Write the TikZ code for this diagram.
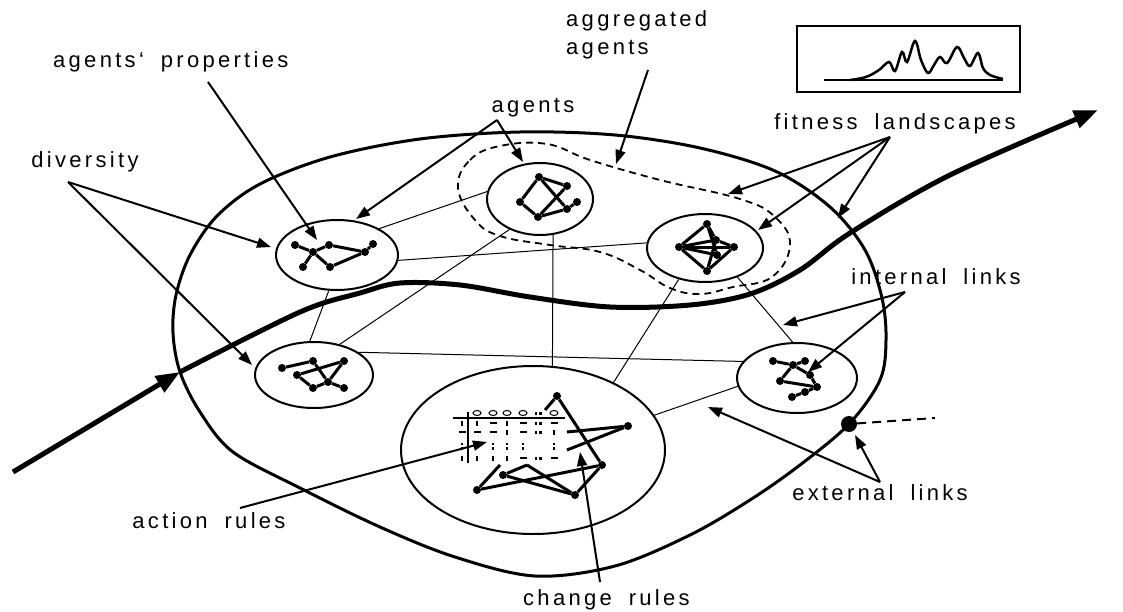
\documentclass[tikz,border=0pt]{standalone}
\usepackage{fontspec}
\setmainfont{Liberation Sans}
\newfontfamily\lblfont[LetterSpace=15,WordSpace=1.8]{Liberation Sans}
\usetikzlibrary{arrows.meta,shapes.geometric}
\begin{document}
\begin{tikzpicture}[x=1pt,y=-1pt,
  lbl/.style={font=\lblfont\fontsize{22}{26}\selectfont, inner sep=0pt},
  agent/.style={draw, ellipse, line width=2pt, inner sep=0pt},
  link/.style={line width=1pt},
  gedge/.style={line width=3pt},
  dot/.style={circle, fill, inner sep=0pt, minimum size=8pt},
  pointer/.style={line width=2pt, -{Triangle[length=14pt,width=10pt]}},
  wave/.style={line width=5pt, -{Triangle[length=24pt,width=18pt]}},
  tbl/.style={line width=1.3pt},
  tblv/.pic={\draw[tbl] (0,-2.5) -- (0,2.5);},
  tblh/.pic={\draw[tbl] (-3.5,0) -- (3.5,0);},
  tblsq/.pic={\fill (-3.5,-1.5) rectangle (-0.8,1.5); \fill (0.8,-1.5) rectangle (3.5,1.5);},
  tblcol/.pic={\fill (-1.2,-3.5) rectangle (1.2,-0.8); \fill (-1.2,0.8) rectangle (1.2,3.5);},
  tblo/.pic={\draw[line width=1pt] (0,0) ellipse (4 and 2.5);}
]
\useasboundingbox (0,0) rectangle (1123,612);

% the system boundary
\draw[line width=3pt] plot[smooth cycle, tension=0.55] coordinates {
  (520,132) (615,135) (700,148) (775,171) (830,207) (865,250) (882,298) (886,340)
  (880,380) (849,424) (800,465) (750,500) (690,535) (615,566) (535,576) (455,557)
  (380,527) (300,488) (233,452) (200,412) (180,372) (173,333) (176,295) (190,255)
  (217,216) (260,184) (330,157) (420,139)};

% agents
\node[agent, minimum width=122pt, minimum height=70pt] (A1) at (337,255) {};
\node[agent, minimum width=106pt, minimum height=72pt] (A2) at (540,199) {};
\node[agent, minimum width=116pt, minimum height=68pt] (A3) at (705,248) {};
\node[agent, minimum width=118pt, minimum height=66pt] (A4) at (314,375) {};
\node[agent, minimum width=120pt, minimum height=70pt] (A5) at (797,378) {};
\node[agent, minimum width=264pt, minimum height=168pt] (C) at (533,450) {};

% internal links between agents
\draw[link] (A1.-5) -- (A3.175);
\draw[link] (A1.32) -- (A2.172);
\draw[link] (A1.257) -- (A4.97);
\draw[link] (A2.290) -- (C.77);
\draw[link] (A4.50) -- (A2.225);
\draw[link] (A4.27) -- (A5.163);
\draw[link] (A3.230) -- (C.40);
\draw[link] (A3.318) -- (A5.97);
\draw[link] (A5.188) -- (C.16);

% aggregated agents
\draw[line width=1.8pt, dash pattern=on 7pt off 5pt] plot[smooth cycle, tension=0.7] coordinates {
  (458,188) (470,160) (500,146) (547,144) (590,160) (660,180) (740,199) (775,217)
  (790,245) (772,277) (733,287) (700,294) (670,288) (640,270) (600,252) (550,245)
  (500,236) (475,220)};

% agent graphs
\foreach \n/\x/\y in {1/295/245, 2/313/252, 3/329/245, 4/303/267, 5/330/267, 6/365/252, 7/373/244}
  \node[dot] (p\n) at (\x,\y) {};
\foreach \u/\v in {1/2, 2/5, 4/2, 2/3, 3/6, 6/7, 6/5}
  \draw[gedge] (p\u) -- (p\v);

\foreach \n/\x/\y in {1/539/177, 2/567/186, 3/520/202, 4/538/217, 5/567/209, 6/577/202}
  \node[dot] (q\n) at (\x,\y) {};
\foreach \u/\v in {1/2, 1/3, 3/4, 4/5, 5/6, 1/5, 2/4}
  \draw[gedge] (q\u) -- (q\v);

\foreach \n/\x/\y in {1/707/224, 2/679/247, 3/716/240, 4/734/247, 5/717/255, 6/707/271}
  \node[dot] (r\n) at (\x,\y) {};
\foreach \u/\v in {1/2, 2/6, 6/4, 4/3, 3/1, 2/3, 2/4, 2/5, 1/5, 3/6}
  \draw[gedge] (r\u) -- (r\v);

\foreach \n/\x/\y in {1/282/368, 2/313/361, 3/344/361, 4/297/375, 5/328/382, 6/313/388, 7/344/388}
  \node[dot] (s\n) at (\x,\y) {};
\foreach \u/\v in {1/2, 2/5, 4/3, 3/5, 4/6, 6/5, 5/7}
  \draw[gedge] (s\u) -- (s\v);

\foreach \n/\x/\y in {1/773/361, 2/793/365, 3/805/361, 4/810/375, 5/780/381, 6/817/387, 7/805/392, 8/792/397}
  \node[dot] (t\n) at (\x,\y) {};
\foreach \u/\v in {1/2, 2/3, 2/5, 2/4, 4/6, 5/6, 6/7, 7/8}
  \draw[gedge] (t\u) -- (t\v);

% rule table
\draw[tbl] (453,418) -- (565,418);
\draw[tbl] (468,412) -- (468,463);
\foreach \x/\k in {477/tblo, 493/tblo, 507/tblo, 523/tblo, 538/tblsq, 554/tblo}
  \pic at (\x,413) {\k};
\foreach \x/\k in {462/tblv, 477/tblv, 493/tblh, 507/tblv, 523/tblh, 538/tblsq, 554/tblh}
  \pic at (\x,423) {\k};
\foreach \x/\k in {462/tblh, 477/tblh, 493/tblh, 507/tblv, 523/tblh, 538/tblsq, 554/tblv}
  \pic at (\x,432) {\k};
\foreach \x/\k in {462/tblcol, 493/tblcol, 507/tblcol, 523/tblcol, 554/tblcol}
  \pic at (\x,446) {\k};
\foreach \x/\k in {462/tblv, 477/tblv, 493/tblv, 507/tblv, 523/tblh, 538/tblsq, 554/tblh}
  \pic at (\x,458) {\k};

% change graph
\foreach \n/\x/\y in {1/557/396, 2/628/426, 3/602/465, 4/575/495, 5/477/490, 6/503/475}
  \node[dot] (c\n) at (\x,\y) {};
\coordinate (e1) at (545,410);
\coordinate (e2) at (567,432);
\coordinate (e3) at (567,450);
\coordinate (e4) at (500,465);
\coordinate (e5) at (527,465);
\draw[gedge] (c1) -- (e1);
\draw[gedge] (c1) -- (c3);
\draw[gedge] (e2) -- (c2);
\draw[gedge] (e3) -- (c2);
\draw[gedge] (c3) -- (c4);
\draw[gedge] (c4) -- (e5);
\draw[gedge] (e5) -- (c6);
\draw[gedge] (c6) -- (c4);
\draw[gedge] (e4) -- (c5);
\draw[gedge] (c5) -- (c3);

% environment flow
\coordinate (wIn) at (13,472);
\coordinate (wMid) at (180,372);
\coordinate (wOut) at (1098,110);
\draw[wave] (wIn) -- (wMid);
\draw[wave] plot[smooth, tension=0.55] coordinates {(wMid) (300,312) (360,293) (400,283) (460,285) (530,297) (610,307) (690,305) (750,294) (800,270) (850,233) (950,175) (wOut)};

% external link
\node[circle, fill, inner sep=0pt, minimum size=16pt] (ext) at (849,424) {};
\coordinate (extEnd) at (935,418);
\draw[line width=2pt, dash pattern=on 9pt off 6pt] (ext) -- (extEnd);

% fitness landscape
\node[draw, line width=1.2pt, inner sep=0pt, minimum width=223pt, minimum height=66pt] (fitBox) at (908.5,59) {};
\coordinate (fitL) at (824,80);
\coordinate (fitR) at (1003,80);
\draw[line width=2.5pt] (fitL) -- (fitR);
\draw[line width=2.5pt] plot[smooth, tension=0.6] coordinates {(850,80) (866,77) (879,70) (889,62) (895,71) (902,52) (907,62) (915,41) (921,60) (928,73) (934,65) (940,57) (947,63) (957,47) (964,58) (970,66) (978,53) (983,68) (990,75) (1003,79)};

% labels
\node[lbl, anchor=base west] (tProp) at (53,68) {agents‘ properties};
\node[lbl, anchor=base] (tAgents) at (533,113) {agents};
\node[lbl, anchor=base west] (tAgg1) at (566,27) {aggregated};
\node[lbl, anchor=base west] (tAgg2) at (566,55) {agents};
\node[lbl, anchor=base] (tDiv) at (85,168) {diversity};
\node[lbl, anchor=base] (tFit) at (895,130) {fitness landscapes};
\node[lbl, anchor=base] (tInt) at (936,284) {internal links};
\node[lbl, anchor=base] (tExt) at (880,500) {external links};
\node[lbl, anchor=base] (tAct) at (209,528) {action rules};
\node[lbl, anchor=base west] (tChg) at (523,605) {change rules};

% pointers
\coordinate (sProp) at (208,82);  \coordinate (hProp) at (317,240);
\coordinate (sAg) at (497,120);   \coordinate (hAg1) at (356,219); \coordinate (hAg2) at (523,162);
\coordinate (sAgg) at (648,70);   \coordinate (hAgg) at (616,164);
\coordinate (sDiv) at (68,182);   \coordinate (hDiv1) at (271,247); \coordinate (hDiv2) at (252,365);
\coordinate (sFit) at (890,137);  \coordinate (hFit1) at (728,194); \coordinate (hFit2) at (758,230); \coordinate (hFit3) at (838,218);
\coordinate (sInt) at (905,292);  \coordinate (hInt1) at (783,325); \coordinate (hInt2) at (808,372);
\coordinate (sExt) at (880,482);  \coordinate (hExt1) at (708,407); \coordinate (hExt2) at (855,435);
\coordinate (sAct) at (240,508);  \coordinate (hAct) at (487,442);
\coordinate (sChg) at (600,582);  \coordinate (hChg) at (580,452);
\draw[pointer] (sProp) -- (hProp);
\draw[pointer] (sAg) -- (hAg1);
\draw[pointer] (sAg) -- (hAg2);
\draw[pointer] (sAgg) -- (hAgg);
\draw[pointer] (sDiv) -- (hDiv1);
\draw[pointer] (sDiv) -- (hDiv2);
\draw[pointer] (sFit) -- (hFit1);
\draw[pointer] (sFit) -- (hFit2);
\draw[pointer] (sFit) -- (hFit3);
\draw[pointer] (sInt) -- (hInt1);
\draw[pointer] (sInt) -- (hInt2);
\draw[pointer] (sExt) -- (hExt1);
\draw[pointer] (sExt) -- (hExt2);
\draw[pointer] (sAct) -- (hAct);
\draw[pointer] (sChg) -- (hChg);
\end{tikzpicture}
\end{document}
